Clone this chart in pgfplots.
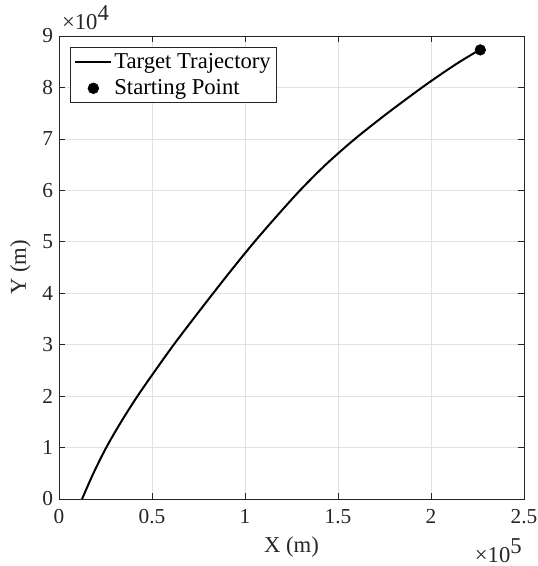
\documentclass[border=0pt]{standalone}
\usepackage{fontspec}
\setmainfont{Liberation Serif}
\usepackage{pgfplots}
\pgfplotsset{compat=1.18}
\definecolor{axc}{RGB}{38,38,38}
\definecolor{gridc}{RGB}{225,225,225}
\pgfplotsset{
  lineleg/.style={legend image code/.code={\draw[##1] (0pt,0pt) -- (27pt,0pt);}},
  dotleg/.style={legend image code/.code={\path (0pt,0pt) (27pt,0pt);\draw[##1] plot coordinates {(13.5pt,0pt)};}},
}
\newcommand{\expo}[1]{{\fontsize{17}{17}\selectfont ×10\raisebox{0.4em}{#1}}}
\begin{document}
\begin{tikzpicture}
\begin{axis}[
  at={(0,0)}, anchor=south west,
  width=348.75pt, height=347.25pt, scale only axis,
  clip=false,
  xmin=0, xmax=250000, ymin=0, ymax=90000,
  scaled ticks=false,
  xtick={0,50000,100000,150000,200000,250000},
  xticklabels={0,0.5,1,1.5,2,2.5},
  ytick={0,10000,20000,30000,40000,50000,60000,70000,80000,90000},
  yticklabels={0,1,2,3,4,5,6,7,8,9},
  grid=major,
  major grid style={gridc, line width=0.5pt},
  tick align=inside,
  major tick length=4.5pt,
  axis line style={axc, line width=0.6pt},
  tick style={axc, line width=0.5pt},
  ticklabel style={font=\fontsize{16}{16}\selectfont, text=axc},
  xticklabel style={yshift=-4pt},
  yticklabel style={xshift=-1pt},
  xlabel={X (m)}, ylabel={Y (m)},
  label style={font=\fontsize{17}{17}\selectfont, text=axc},
  xlabel style={at={(axis description cs:0.5,-0.1037)}, anchor=center},
  ylabel style={at={(axis description cs:-0.0832,0.5)}, anchor=center},
  legend cell align=left,
  legend style={at={(axis description cs:0.0237,0.976)}, anchor=north west,
    font=\fontsize{17}{20}\selectfont, draw=axc, line width=0.5pt,
    inner xsep=3pt, inner ysep=3pt, row sep=4pt,
    nodes={inner sep=1.5pt, text=black}},
]
\addplot[black, line width=1.5pt, smooth, tension=0.5, lineleg]
  coordinates {
  (12400,0) (18500,5000) (25400,10000) (33400,15000) (42200,20000)
  (51800,25000) (61700,30000) (72200,35000) (82900,40000) (93800,45000)
  (105100,50000) (117100,55000) (129600,60000) (143400,65000)
  (159100,70000) (176600,75000) (195200,80000) (207100,83000)
  (215500,85000) (226000,87300)
  };
\addlegendentry{Target Trajectory}
\addplot[only marks, mark=*, mark size=4pt, black, dotleg]
  coordinates {(226500,87300)};
\addlegendentry{Starting Point}
\node[anchor=base west, text=axc, inner sep=0pt]
  at (axis description cs:0.006,1.0144) {\expo{4}};
\node[anchor=base east, text=axc, inner sep=0pt]
  at (axis description cs:0.9957,-0.138) {\expo{5}};
\end{axis}
\pgfresetboundingbox
\useasboundingbox (-44.25pt,-50.25pt) rectangle (358.5pt,374.25pt);
\end{tikzpicture}
\end{document}
